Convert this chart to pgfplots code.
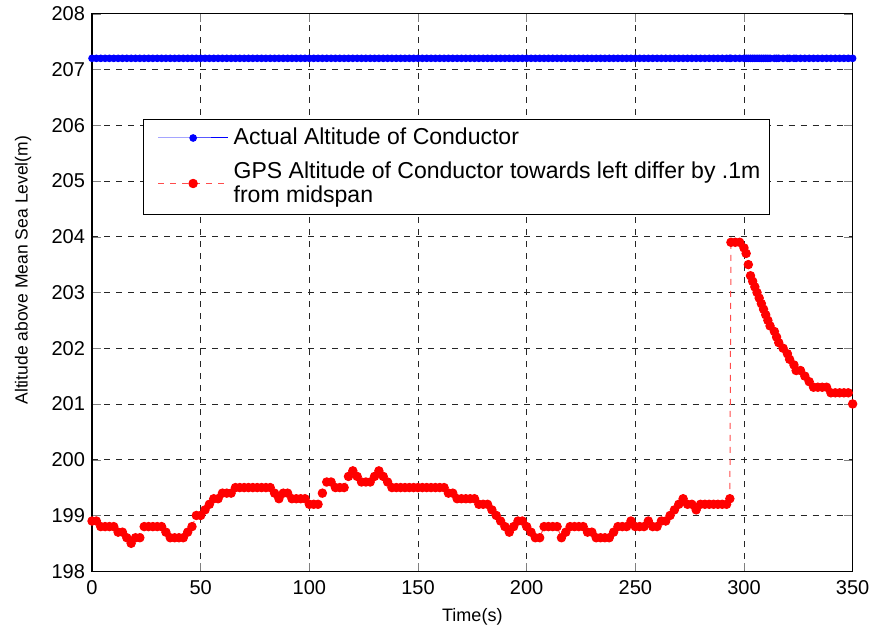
\documentclass[border=0pt]{standalone}
\usepackage{pgfplots}
\pgfplotsset{compat=1.18}
\usepackage{pgfplotstable}
\usepackage{fontspec}
\setmainfont{Liberation Sans}

% t, GPS altitude, actual altitude
\pgfplotstableread{
t gps actual
0 198.9 207.2
2 198.9 207.2
4 198.8 207.2
6 198.8 207.2
8 198.8 207.2
10 198.8 207.2
12 198.7 207.2
14 198.7 207.2
16 198.6 207.2
18 198.5 207.2
20 198.6 207.2
22 198.6 207.2
24 198.8 207.2
26 198.8 207.2
28 198.8 207.2
30 198.8 207.2
32 198.8 207.2
34 198.7 207.2
36 198.6 207.2
38 198.6 207.2
40 198.6 207.2
42 198.6 207.2
44 198.7 207.2
46 198.8 207.2
48 199.0 207.2
50 199.0 207.2
52 199.1 207.2
54 199.2 207.2
56 199.3 207.2
58 199.3 207.2
60 199.4 207.2
62 199.4 207.2
64 199.4 207.2
66 199.5 207.2
68 199.5 207.2
70 199.5 207.2
72 199.5 207.2
74 199.5 207.2
76 199.5 207.2
78 199.5 207.2
80 199.5 207.2
82 199.5 207.2
84 199.4 207.2
86 199.3 207.2
88 199.4 207.2
90 199.4 207.2
92 199.3 207.2
94 199.3 207.2
96 199.3 207.2
98 199.3 207.2
100 199.2 207.2
102 199.2 207.2
104 199.2 207.2
106 199.4 207.2
108 199.6 207.2
110 199.6 207.2
112 199.5 207.2
114 199.5 207.2
116 199.5 207.2
118 199.7 207.2
120 199.8 207.2
122 199.7 207.2
124 199.6 207.2
126 199.6 207.2
128 199.6 207.2
130 199.7 207.2
132 199.8 207.2
134 199.7 207.2
136 199.6 207.2
138 199.5 207.2
140 199.5 207.2
142 199.5 207.2
144 199.5 207.2
146 199.5 207.2
148 199.5 207.2
150 199.5 207.2
152 199.5 207.2
154 199.5 207.2
156 199.5 207.2
158 199.5 207.2
160 199.5 207.2
162 199.5 207.2
164 199.4 207.2
166 199.4 207.2
168 199.3 207.2
170 199.3 207.2
172 199.3 207.2
174 199.3 207.2
176 199.3 207.2
178 199.2 207.2
180 199.2 207.2
182 199.2 207.2
184 199.1 207.2
186 199.0 207.2
188 198.9 207.2
190 198.8 207.2
192 198.7 207.2
194 198.8 207.2
196 198.9 207.2
198 198.9 207.2
200 198.8 207.2
202 198.7 207.2
204 198.6 207.2
206 198.6 207.2
208 198.8 207.2
210 198.8 207.2
212 198.8 207.2
214 198.8 207.2
216 198.6 207.2
218 198.7 207.2
220 198.8 207.2
222 198.8 207.2
224 198.8 207.2
226 198.8 207.2
228 198.7 207.2
230 198.7 207.2
232 198.6 207.2
234 198.6 207.2
236 198.6 207.2
238 198.6 207.2
240 198.7 207.2
242 198.8 207.2
244 198.8 207.2
246 198.8 207.2
248 198.9 207.2
250 198.8 207.2
252 198.8 207.2
254 198.8 207.2
256 198.9 207.2
258 198.8 207.2
260 198.8 207.2
262 198.9 207.2
264 198.9 207.2
266 199.0 207.2
268 199.1 207.2
270 199.2 207.2
272 199.3 207.2
274 199.2 207.2
276 199.2 207.2
278 199.1 207.2
280 199.2 207.2
282 199.2 207.2
284 199.2 207.2
286 199.2 207.2
288 199.2 207.2
290 199.2 207.2
292 199.2 207.2
293.5 199.3 207.2
294 203.9 207.2
296 203.9 207.2
298 203.9 207.2
300 203.8 207.2
301 203.7 207.2
302 203.5 207.2
303 203.3 207.2
304 203.2 207.2
305 203.1 207.2
306 203.0 207.2
307 202.9 207.2
308 202.8 207.2
309 202.7 207.2
310 202.6 207.2
311 202.5 207.2
312 202.4 207.2
314 202.3 207.2
315 202.2 207.2
316 202.1 207.2
318 202.0 207.2
320 201.9 207.2
321 201.8 207.2
323 201.7 207.2
324 201.6 207.2
326 201.6 207.2
328 201.5 207.2
330 201.4 207.2
332 201.3 207.2
334 201.3 207.2
336 201.3 207.2
338 201.3 207.2
340 201.2 207.2
342 201.2 207.2
344 201.2 207.2
346 201.2 207.2
348 201.2 207.2
350 201.0 207.2
}\altdata

\begin{document}
\begin{tikzpicture}
\begin{axis}[
    scale only axis,
    width=380pt,
    height=278.5pt,
    xmin=0, xmax=350,
    ymin=198, ymax=208,
    xtick={0,50,...,350},
    ytick={198,199,...,208},
    grid=major,
    major grid style={black!85, dashed, line width=0.4pt},
    tick align=inside,
    tick pos=both,
    axis line style={black, line width=0.6pt},
    font=\fontsize{10}{12}\selectfont,
    /pgf/number format/assume math mode=true,
    xticklabel style={yshift=-1pt},
    xlabel={Time(s)},
    ylabel={Altitude above Mean Sea Level(m)},
    xlabel style={font=\fontsize{9}{10.8}\selectfont,
        at={(axis description cs:0.5,-0.054)}, anchor=north},
    ylabel style={font=\fontsize{8.75}{10.5}\selectfont,
        at={(axis description cs:-0.0908,0.54)}, anchor=center,
        inner ysep=7.4pt},
    legend style={at={(rel axis cs:0.067,0.812)}, anchor=north west,
        draw=black, line width=0.6pt, inner sep=2pt,
        nodes={inner sep=2.5pt},
        cells={align=left, anchor=west},
        font=\fontsize{11.5}{11.8}\selectfont, row sep=2pt},
    legend cell align=left,
    legend image code/.code={\path (0pt,0pt);
        \draw[mark repeat=2, mark phase=2]
        plot coordinates {(5pt,0pt) (22.5pt,0pt) (40pt,0pt)};},
]
\addplot[blue, line width=0.5pt, mark=*, mark size=1.65pt,
    mark options={solid, fill=blue}] table[x=t, y=actual] {\altdata};
\addplot[red!70, dashed, line width=0.5pt, mark=*, mark size=2.1pt,
    mark options={solid, fill=red, draw=red}] table[x=t, y=gps] {\altdata};
\legend{Actual Altitude of Conductor,
    {GPS Altitude of Conductor towards left differ by .1m\\from midspan}}
\end{axis}
\end{tikzpicture}
\end{document}
